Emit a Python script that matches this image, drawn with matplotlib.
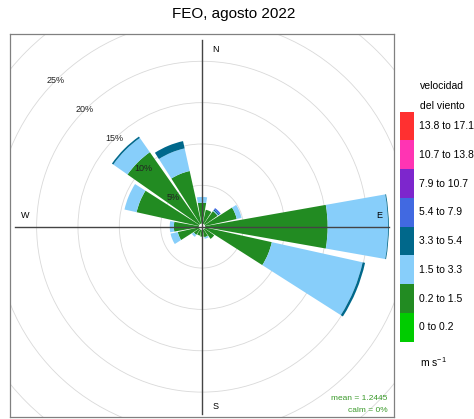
import numpy as np
import matplotlib
matplotlib.use("Agg")
import matplotlib.pyplot as plt
from matplotlib.patches import Wedge, Circle

plt.rcParams['font.family'] = ['Liberation Sans', 'DejaVu Sans']
plt.rcParams['mathtext.fontset'] = 'custom'
plt.rcParams['mathtext.rm'] = 'Liberation Sans'

# 16 wind directions (degrees from north, clockwise)
directions = [0, 22.5, 45, 67.5, 90, 112.5, 135, 157.5,
              180, 202.5, 225, 247.5, 270, 292.5, 315, 337.5]

# frequency (%) per speed bin and direction
ws_0_02 = [0.1, 0.2, 0.2, 0.2, 0.2, 0.1, 0.1, 0.1, 0.1, 0.1, 0.1, 0.1, 0.1, 0.1, 0.1, 0.1]
ws_02_15 = [2.8, 1.9, 2.1, 4.1, 15.0, 8.55, 1.7, 1.2, 1.1, 1.0, 1.1, 2.9, 3.3, 8.0, 10.9, 6.8]
ws_15_33 = [0.7, 0.0, 0.1, 0.6, 7.3, 11.25, 0.0, 0.2, 0.0, 0.0, 0.3, 0.9, 0.5, 1.5, 2.1, 2.8]
ws_33_54 = [0.0, 0.0, 0.15, 0.0, 0.1, 0.3, 0.0, 0.0, 0.0, 0.0, 0.0, 0.0, 0.0, 0.0, 0.2, 0.9]
ws_54_79 = [0.0, 0.0, 0.2, 0.0, 0.0, 0.0, 0.0, 0.0, 0.0, 0.0, 0.0, 0.0, 0.0, 0.0, 0.0, 0.0]
ws_79_107 = [0.0] * 16
ws_107_138 = [0.0] * 16
ws_138_171 = [0.0] * 16

bin_labels = ["0 to 0.2", "0.2 to 1.5", "1.5 to 3.3", "3.3 to 5.4",
              "5.4 to 7.9", "7.9 to 10.7", "10.7 to 13.8", "13.8 to 17.1"]
bin_colors = ["#00CC00", "#228B22", "#87CEFA", "#00688B",
              "#4169E1", "#7D26CD", "#FF34B3", "#FF3030"]

title = "FEO, agosto 2022"
mean_ws = 1.2445
calm = 0

freqs = np.array([ws_0_02, ws_02_15, ws_15_33, ws_33_54,
                  ws_54_79, ws_79_107, ws_107_138, ws_138_171])
cum = np.cumsum(freqs, axis=0)
max_freq = cum[-1].max()

fig = plt.figure(figsize=(4.74, 4.19), dpi=100)
ax = fig.add_axes([10/474, 2/419, 384/474, 383/419])
ax.set_xlim(-23.22, 23.22)
ax.set_ylim(-23.01, 23.3)
ax.set_xticks([])
ax.set_yticks([])
for s in ax.spines.values():
    s.set_color('#808080')
    s.set_linewidth(0.9)

# grid circles
for p in range(5, 35, 5):
    ax.add_patch(Circle((0, 0), p, fill=False, color='#d9d9d9', lw=0.6, zorder=1))

# stacked wedges
half = 10
for j, d in enumerate(directions):
    inner = 0
    for i in range(len(bin_labels)):
        outer = cum[i, j]
        if outer - inner > 0:
            ax.add_patch(Wedge((0, 0), outer, 90 - d - half, 90 - d + half,
                               width=outer - inner, facecolor=bin_colors[i],
                               edgecolor='none', zorder=2))
        inner = outer
ax.add_patch(Circle((0, 0), 0.3, color='white', zorder=3))

# axes cross
ax.plot([-max_freq, max_freq], [0, 0], color='#444444', lw=1, zorder=4)
ax.plot([0, 0], [-max_freq, max_freq], color='#444444', lw=1, zorder=4)

r_lab = 21.4
ax.text(1.6, r_lab, "N", fontsize=6.5, ha='center', va='center', zorder=5)
ax.text(1.6, -21.7, "S", fontsize=6.5, ha='center', va='center', zorder=5)
ax.text(r_lab, 1.4, "E", fontsize=6.5, ha='center', va='center', zorder=5)
ax.text(-r_lab, 1.4, "W", fontsize=6.5, ha='center', va='center', zorder=5)

for p in range(5, 30, 5):
    ax.text(-p * np.sin(np.pi / 4), p * np.cos(np.pi / 4), "%d%%" % p,
            fontsize=6.5, ha='center', va='center', color='#222222', zorder=5)

ax.text(0.984, 0.049, "mean = %s" % mean_ws, transform=ax.transAxes,
        fontsize=6, color='#3a9a2a', ha='right', va='center')
ax.text(0.984, 0.018, "calm = %d%%" % calm, transform=ax.transAxes,
        fontsize=6, color='#3a9a2a', ha='right', va='center')

fig.text(233.8/474, 1 - 14/419, title, fontsize=11, ha='center', va='center')

# legend key
lax = fig.add_axes([400/474, (419 - 341.7)/419, 14.3/474, 230/419])
lax.set_xlim(0, 1)
lax.set_ylim(0, len(bin_labels))
lax.axis('off')
for i, (lab, c) in enumerate(zip(bin_labels, bin_colors)):
    lax.bar(0.5, 1, bottom=i, width=1, color=c, edgecolor='none')
    lax.text(1.35, i + 0.5, lab, fontsize=7.5, ha='left', va='center', clip_on=False)

fig.text(420/474, 1 - 85.7/419, "velocidad", fontsize=7.5, ha='left', va='center')
fig.text(420/474, 1 - 105.7/419, "del viento", fontsize=7.5, ha='left', va='center')
fig.text(420/474, 1 - 361.7/419, r"m s$^{-1}$", fontsize=7.5, ha='left', va='center')

fig.savefig("out.png", dpi=100)
